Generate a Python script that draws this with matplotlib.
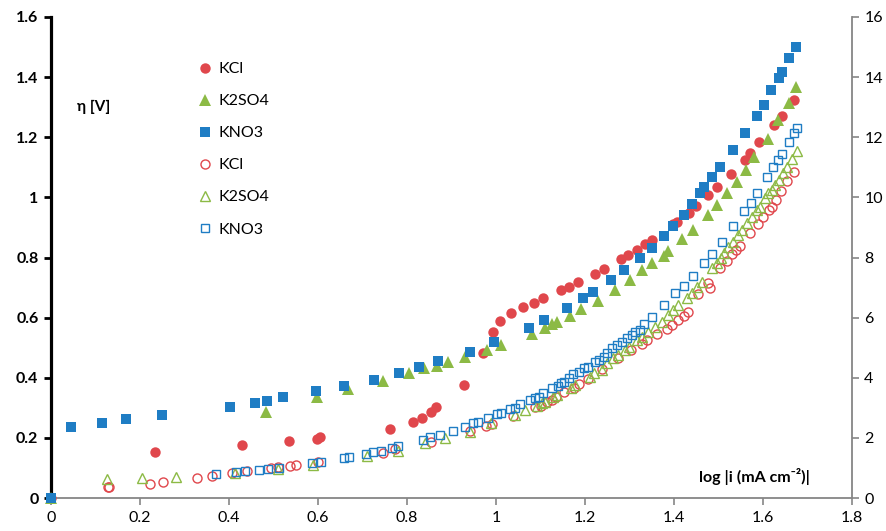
import matplotlib
matplotlib.use("Agg")
import matplotlib.pyplot as plt
from matplotlib.ticker import FuncFormatter

plt.rcParams['font.family'] = ['Lato', 'DejaVu Sans']

# ---- data (left axis: eta [V]) ----
kcl_x = [0, 0.234, 0.429, 0.534, 0.597, 0.605, 0.762, 0.813, 0.833, 0.854, 0.866, 0.928, 0.972, 0.994,
         1.009, 1.034, 1.060, 1.086, 1.105, 1.146, 1.165, 1.184, 1.222, 1.243, 1.281, 1.298, 1.317, 1.335,
         1.350, 1.398, 1.407, 1.435, 1.450, 1.478, 1.497, 1.529, 1.560, 1.571, 1.592, 1.625, 1.644, 1.671]
kcl_y = [0, 0.153, 0.177, 0.19, 0.196, 0.202, 0.228, 0.254, 0.267, 0.285, 0.304, 0.376, 0.483, 0.553,
         0.590, 0.614, 0.634, 0.650, 0.665, 0.691, 0.703, 0.717, 0.744, 0.761, 0.794, 0.808, 0.825, 0.844,
         0.858, 0.911, 0.919, 0.949, 0.971, 1.008, 1.036, 1.079, 1.124, 1.149, 1.184, 1.241, 1.271, 1.324]

k2so4_x = [0, 0.483, 0.597, 0.667, 0.747, 0.805, 0.839, 0.867, 0.893, 0.931, 0.980, 1.011, 1.081, 1.111,
           1.126, 1.138, 1.167, 1.192, 1.229, 1.268, 1.302, 1.328, 1.350, 1.377, 1.388, 1.418, 1.443, 1.478,
           1.497, 1.520, 1.542, 1.562, 1.580, 1.611, 1.635, 1.658, 1.675]
k2so4_y = [0, 0.287, 0.335, 0.362, 0.390, 0.415, 0.431, 0.440, 0.453, 0.470, 0.491, 0.509, 0.544, 0.564,
           0.578, 0.587, 0.605, 0.628, 0.656, 0.692, 0.725, 0.757, 0.781, 0.806, 0.823, 0.861, 0.891, 0.941,
           0.974, 1.014, 1.052, 1.091, 1.133, 1.195, 1.258, 1.315, 1.366]

kno3_x = [0, 0.045, 0.115, 0.168, 0.249, 0.402, 0.459, 0.485, 0.522, 0.595, 0.659, 0.726, 0.783, 0.827,
          0.871, 0.942, 0.996, 1.075, 1.108, 1.159, 1.197, 1.219, 1.258, 1.288, 1.324, 1.350, 1.377, 1.398,
          1.422, 1.440, 1.459, 1.468, 1.485, 1.505, 1.533, 1.560, 1.587, 1.603, 1.619, 1.636, 1.644, 1.660, 1.675]
kno3_y = [0, 0.237, 0.251, 0.262, 0.275, 0.304, 0.317, 0.324, 0.337, 0.356, 0.374, 0.393, 0.415, 0.437,
          0.455, 0.487, 0.518, 0.564, 0.593, 0.631, 0.664, 0.686, 0.725, 0.760, 0.798, 0.832, 0.872, 0.905,
          0.941, 0.978, 1.016, 1.036, 1.069, 1.102, 1.158, 1.215, 1.271, 1.307, 1.357, 1.396, 1.418, 1.463, 1.499]

# ---- data (right axis) ----
kcl2_x = [0.128, 0.131, 0.223, 0.251, 0.328, 0.363, 0.408, 0.440, 0.494, 0.511, 0.537, 0.550, 0.600, 0.746,
          0.773, 0.854, 0.943, 0.978, 0.991, 1.039, 1.088, 1.102, 1.114, 1.126, 1.135, 1.153, 1.176, 1.188,
          1.208, 1.239, 1.275, 1.304, 1.328, 1.339, 1.362, 1.384, 1.395, 1.410, 1.422, 1.433, 1.455, 1.476,
          1.482, 1.504, 1.519, 1.530, 1.540, 1.549, 1.571, 1.590, 1.600, 1.613, 1.620, 1.630, 1.642, 1.655, 1.670]
kcl2_y = [0.37, 0.38, 0.455, 0.521, 0.654, 0.742, 0.820, 0.909, 0.987, 1.02, 1.065, 1.098, 1.209, 1.508,
          1.619, 1.874, 2.24, 2.395, 2.46, 2.74, 3.02, 3.07, 3.20, 3.26, 3.37, 3.52, 3.65, 3.78,
          3.95, 4.28, 4.65, 4.92, 5.11, 5.26, 5.46, 5.61, 5.76, 5.92, 6.06, 6.20, 6.80, 7.14,
          6.98, 7.64, 7.90, 8.10, 8.25, 8.38, 8.80, 9.12, 9.35, 9.58, 9.69, 9.90, 10.22, 10.53, 10.85]

k2so42_x = [0.127, 0.204, 0.281, 0.414, 0.511, 0.590, 0.710, 0.779, 0.841, 0.886, 0.942, 0.989, 1.043,
            1.066, 1.092, 1.103, 1.111, 1.129, 1.137, 1.168, 1.178, 1.212, 1.221, 1.238, 1.251, 1.264, 1.275,
            1.290, 1.300, 1.317, 1.328, 1.343, 1.358, 1.373, 1.388, 1.399, 1.410, 1.429, 1.440, 1.452, 1.463,
            1.485, 1.497, 1.506, 1.513, 1.523, 1.534, 1.545, 1.553, 1.564, 1.575, 1.587, 1.594, 1.604, 1.612,
            1.620, 1.628, 1.637, 1.646, 1.655, 1.665, 1.676]
k2so42_y = [0.62, 0.68, 0.71, 0.82, 0.95, 1.10, 1.40, 1.56, 1.84, 1.99, 2.21, 2.48, 2.76,
            2.94, 3.07, 3.15, 3.20, 3.35, 3.43, 3.65, 3.76, 4.03, 4.15, 4.26, 4.48, 4.65, 4.76,
            4.92, 5.03, 5.26, 5.35, 5.53, 5.68, 5.87, 6.09, 6.25, 6.42, 6.64, 6.81, 7.03, 7.20,
            7.64, 7.81, 8.00, 8.15, 8.36, 8.53, 8.75, 8.92, 9.14, 9.36, 9.58, 9.69, 9.97, 10.14,
            10.25, 10.41, 10.58, 10.80, 11.02, 11.27, 11.55]

kno32_x = [0.370, 0.417, 0.436, 0.468, 0.487, 0.513, 0.586, 0.606, 0.659, 0.671, 0.708, 0.723, 0.742,
           0.766, 0.781, 0.837, 0.852, 0.875, 0.903, 0.931, 0.949, 0.959, 0.983, 1.002, 1.012, 1.032, 1.043,
           1.054, 1.077, 1.087, 1.096, 1.107, 1.126, 1.139, 1.147, 1.154, 1.165, 1.174, 1.187, 1.198, 1.208,
           1.223, 1.233, 1.243, 1.251, 1.261, 1.272, 1.283, 1.294, 1.305, 1.313, 1.323, 1.333, 1.350, 1.377,
           1.403, 1.422, 1.443, 1.467, 1.485, 1.508, 1.534, 1.559, 1.573, 1.588, 1.610, 1.624, 1.635, 1.643,
           1.660, 1.671, 1.678]
kno32_y = [0.79, 0.855, 0.90, 0.93, 0.95, 1.01, 1.15, 1.21, 1.32, 1.36, 1.46, 1.52, 1.57,
           1.65, 1.73, 1.93, 2.02, 2.10, 2.23, 2.37, 2.48, 2.52, 2.65, 2.78, 2.83, 2.95, 3.00,
           3.12, 3.26, 3.32, 3.37, 3.48, 3.65, 3.73, 3.81, 3.87, 4.00, 4.12, 4.20, 4.31, 4.37,
           4.53, 4.59, 4.70, 4.83, 4.98, 5.09, 5.20, 5.31, 5.42, 5.53, 5.59, 5.79, 6.03, 6.42,
           6.81, 7.05, 7.39, 7.81, 8.12, 8.53, 9.05, 9.55, 9.82, 10.16, 10.69, 11.02, 11.24, 11.44,
           11.83, 12.15, 12.30]

labels = ["KCl", "K2SO4", "KNO3"]
x_ticks = [0, 0.2, 0.4, 0.6, 0.8, 1.0, 1.2, 1.4, 1.6, 1.8]
yl_ticks = [0, 0.2, 0.4, 0.6, 0.8, 1.0, 1.2, 1.4, 1.6]
yr_ticks = [0, 2, 4, 6, 8, 10, 12, 14, 16]

RED = '#E0474C'
GREEN = '#8CBA45'
BLUE = '#1F7DC4'
GRAY = '#868686'

fig = plt.figure(figsize=(8.87, 5.31), dpi=100)
ax = fig.add_axes([51/887, 1-498/531, (851.7-51)/887, (498-17)/531])
ax2 = ax.twinx()

h1, = ax.plot(kcl_x, kcl_y, 'o', color=RED, ms=7.5, mew=0, label=labels[0], clip_on=False, zorder=3)
h2, = ax.plot(k2so4_x, k2so4_y, '^', color=GREEN, ms=8, mew=0, label=labels[1], clip_on=False, zorder=3)
h3, = ax.plot(kno3_x, kno3_y, 's', color=BLUE, ms=7, mew=0, label=labels[2], clip_on=False, zorder=3)
h4, = ax2.plot(kcl2_x, kcl2_y, 'o', mfc='none', mec=RED, ms=6.5, mew=1.0, label=labels[0])
h5, = ax2.plot(k2so42_x, k2so42_y, '^', mfc='none', mec=GREEN, ms=7, mew=1.0, label=labels[1])
h6, = ax2.plot(kno32_x, kno32_y, 's', mfc='none', mec=BLUE, ms=5.5, mew=1.0, label=labels[2])

ax.set_xlim(0, 1.8)
ax.set_ylim(0, 1.6)
ax2.set_ylim(0, 16)
ax.set_xticks(x_ticks)
ax.set_yticks(yl_ticks)
ax2.set_yticks(yr_ticks)
fmt = FuncFormatter(lambda v, p: ('%.1f' % v).rstrip('0').rstrip('.'))
ax.xaxis.set_major_formatter(fmt)
ax.yaxis.set_major_formatter(fmt)
ax2.yaxis.set_major_formatter(FuncFormatter(lambda v, p: '%d' % v))

for s in ['top', 'right']:
    ax.spines[s].set_visible(False)
for s in ['top', 'left', 'bottom']:
    ax2.spines[s].set_visible(False)
ax.spines['left'].set_color('black')
ax.spines['left'].set_linewidth(2.3)
ax.spines['bottom'].set_color(GRAY)
ax.spines['bottom'].set_linewidth(1.3)
ax2.spines['right'].set_color(GRAY)
ax2.spines['right'].set_linewidth(1.3)

ax.tick_params(axis='y', direction='out', length=5, width=2, color='black',
               labelsize=11.5, pad=4)
for t in ax.get_yticklabels():
    t.set_fontweight('bold')
ax.tick_params(axis='x', direction='out', length=5, width=1.2, color=GRAY,
               labelsize=11.5, pad=4)
ax2.tick_params(axis='y', direction='out', length=5, width=1.2, color=GRAY,
                labelsize=11.5, pad=4)

ax.text(0.058, 1.30, 'η [V]', fontsize=11, fontweight='bold', ha='left', va='center')
ax.text(1.707, 0.07, 'log |i (mA cm⁻²)|', fontsize=11.5, fontweight='bold',
        ha='right', va='center')

leg = ax.legend(handles=[h1, h2, h3, h4, h5, h6], loc='upper left',
                bbox_to_anchor=(0.175, 0.923), frameon=False, fontsize=11.5,
                handlelength=0.8, handletextpad=0.4, labelspacing=1.12, borderpad=0)
ax2.set_zorder(ax.get_zorder() + 1)
ax.patch.set_visible(True)
ax2.patch.set_visible(False)

fig.savefig('out.png', dpi=100)
